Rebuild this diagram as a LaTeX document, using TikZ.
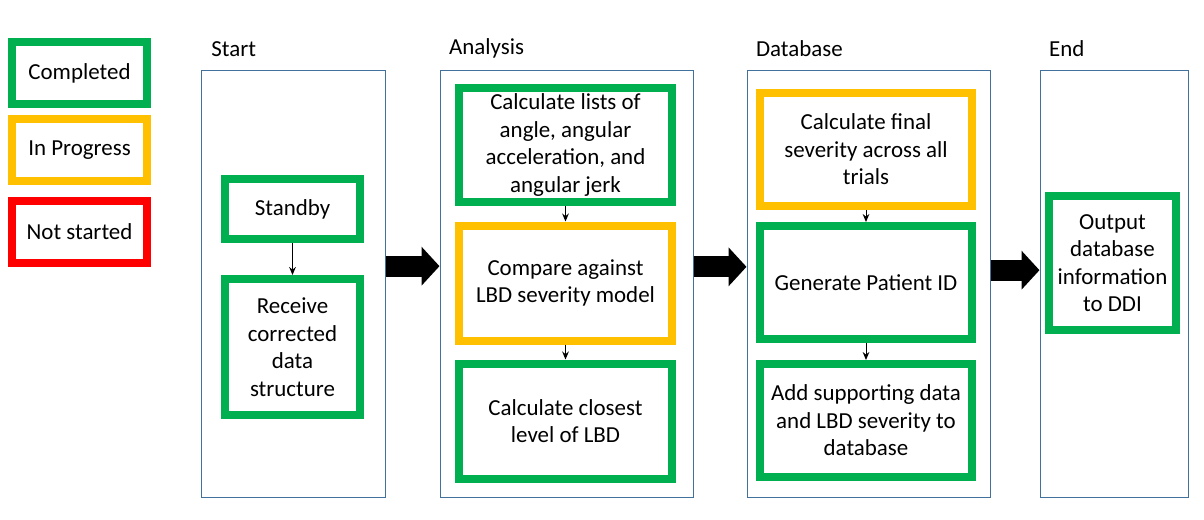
\documentclass[tikz,border=0pt]{standalone}
\usepackage{fontspec}
\setmainfont{Carlito}
\usetikzlibrary{arrows.meta, positioning}
\definecolor{donegreen}{RGB}{0,176,80}
\definecolor{progyellow}{RGB}{255,192,0}
\definecolor{notred}{RGB}{255,0,0}
\definecolor{laneblue}{RGB}{65,113,156}
\tikzstyle{done} = [rectangle, draw=donegreen, line width=6pt, fill=white, align=center, minimum width=101.25pt, minimum height=45pt, inner sep=1pt]
\tikzstyle{progress} = [done, draw=progyellow]
\tikzstyle{notdone} = [done, draw=notred]
\tikzstyle{lane} = [rectangle, draw=laneblue, line width=0.75pt, minimum height=320.25pt]
\tikzstyle{title} = [anchor=west, inner sep=0pt]
\tikzstyle{arrow} = [line width=0.75pt, -{Stealth[length=6pt, width=5pt]}]
\tikzstyle{bigarrow} = [line width=15.75pt, -{Triangle[length=13.5pt, width=28.5pt]}]

\begin{document}
\begin{tikzpicture}
[x=0.75pt, y=-0.75pt, node distance=103.5pt, font=\fontsize{17.2}{20.6}\selectfont]
\useasboundingbox (0,0) rectangle (1204,519);

% legend
\node (completed) [done, minimum height=46.5pt] at (79.5,73) {Completed};
\node (inprogress) [progress, minimum height=46.5pt] at (79.5,150) {In Progress};
\node (notstarted) [notdone, minimum height=46.5pt] at (79.5,232) {Not started};

% lanes
\node (startlane) [lane, minimum width=138pt] at (293,283.5) {};
\node (analysislane) [lane, minimum width=189.75pt] at (566.5,283.5) {};
\node (dblane) [lane, minimum width=182.25pt] at (868.5,283.5) {};
\node (endlane) [lane, minimum width=111pt] at (1114,283.5) {};

\node (starttitle) [title] at ([xshift=8pt, yshift=15.5pt]startlane.north west) {Start};
\node (analysistitle) [title] at ([xshift=7pt, yshift=15.5pt]analysislane.north west) {Analysis};
\node (dbtitle) [title] at ([xshift=7pt, yshift=15.5pt]dblane.north west) {Database};
\node (endtitle) [title] at ([xshift=7pt, yshift=15.5pt]endlane.north west) {End};

% start
\node (standby) [done] at (292.5,209) {Standby};
\node (receive) [done, below of=standby, minimum height=102pt] {Receive\\corrected\\data\\structure};

% analysis
\node (lists) [done, minimum width=159.75pt, minimum height=85.5pt] at (565.5,145) {Calculate lists of\\angle, angular\\acceleration, and\\angular jerk};
\node (compare) [progress, below of=lists, minimum width=159.75pt, minimum height=86.25pt] {Compare against\\LBD severity model};
\node (closest) [done, below of=compare, minimum width=159.75pt, minimum height=86.25pt] {Calculate closest\\level of LBD};

% database
\node (final) [progress, minimum width=159pt, minimum height=84.75pt] at (866,149.5) {Calculate final\\severity across all\\trials};
\node (patient) [done, below of=final, yshift=3.75pt, minimum width=159pt, minimum height=84.75pt] {Generate Patient ID};
\node (adddata) [done, below of=patient, minimum width=159pt, minimum height=84.75pt] {Add supporting data\\and LBD severity to\\database};

% end
\node (output) [done, minimum width=95.25pt, minimum height=100.5pt] at (1112.5,263) {Output\\database\\information\\to DDI};

\draw [arrow] (standby) -- (receive);
\draw [arrow] (lists) -- (compare);
\draw [arrow] (compare) -- (closest);
\draw [arrow] (final) -- (patient);
\draw [arrow] (patient) -- (adddata);

\draw [bigarrow] ([yshift=13pt]startlane.east) -- ([yshift=13pt]analysislane.west);
\draw [bigarrow] ([yshift=12.5pt]analysislane.east) -- ([yshift=12.5pt]dblane.west);
\draw [bigarrow] ([yshift=10pt]dblane.east) -- ([yshift=10pt]endlane.west);

\end{tikzpicture}
\end{document}
